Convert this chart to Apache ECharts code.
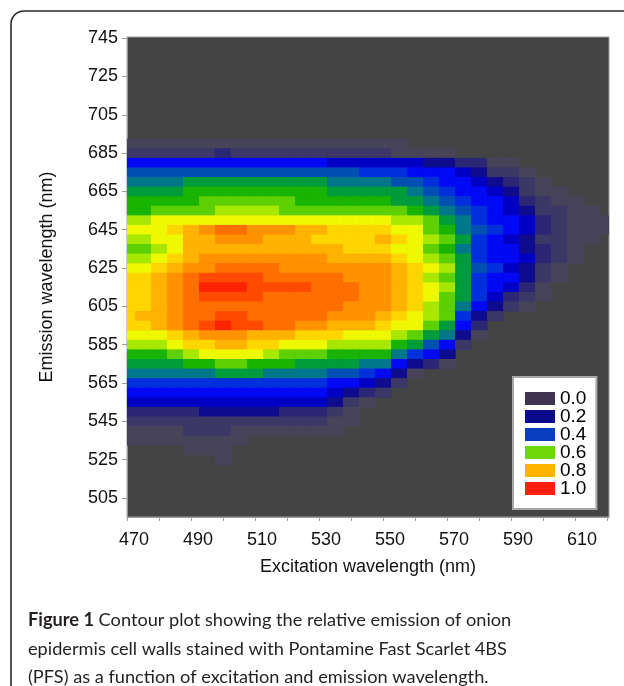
<!DOCTYPE html>
<html>
<head>
<meta charset="utf-8">
<title>Figure 1</title>
<script src="https://cdn.jsdelivr.net/npm/echarts@6/dist/echarts.min.js"></script>
<style>
    html, body { margin: 0; padding: 0; background: #fff; }
    #contour { width: 624px; height: 686px; }
</style>
</head>
<body>
<div id="contour"></div>
<script>
// excitation (x) and emission (y) grid, nm
var excitation = [470, 475, 480, 485, 490, 495, 500, 505, 510, 515, 520, 525, 530, 535, 540, 545,
    550, 555, 560, 565, 570, 575, 580, 585, 590, 595, 600, 605, 610, 615, 620];
var emission = [695, 690, 685, 680, 675, 670, 665, 660, 655, 650, 645, 640, 635, 630, 625, 620,
    615, 610, 605, 600, 595, 590, 585, 580, 575, 570, 565, 560, 555, 550, 545, 540, 535, 530, 525, 520];

// relative emission in % (one row per emission wavelength; missing = 0)
var relEmission = [
    [2, 2, 2, 2, 2, 2, 2, 2, 2, 2, 2, 2, 2, 2, 2, 2, 2, 2, 1, 1],
    [5, 5, 5, 5, 5, 5, 5, 5, 5, 5, 5, 5, 5, 5, 5, 5, 5, 5, 4, 3, 2, 2, 1],
    [10, 11, 12, 12, 13, 14, 15, 14, 13, 12, 12, 12, 12, 11, 10, 10, 10, 9, 8, 7, 6, 4, 3, 2, 2, 1],
    [30, 30, 30, 30, 30, 30, 30, 30, 30, 30, 30, 30, 30, 29, 28, 28, 28, 27, 26, 24, 22, 18, 15, 8, 5, 3, 1],
    [42, 42, 42, 42, 42, 42, 42, 42, 42, 42, 42, 42, 42, 41, 40, 39, 38, 36, 34, 32, 30, 26, 22, 14, 10, 6, 3, 1],
    [47, 47, 48, 49, 50, 51, 52, 52, 52, 51, 50, 50, 50, 49, 48, 47, 46, 44, 42, 38, 33, 30, 28, 20, 15, 10, 5, 3, 1],
    [52, 52, 53, 54, 55, 56, 57, 57, 57, 56, 56, 55, 55, 54, 54, 53, 52, 50, 48, 43, 38, 33, 30, 26, 20, 14, 8, 5, 3, 1],
    [55, 55, 56, 57, 58, 60, 62, 62, 62, 61, 60, 59, 58, 57, 57, 56, 55, 54, 52, 47, 42, 37, 33, 30, 25, 18, 11, 8, 5, 3, 1],
    [58, 59, 60, 62, 63, 64, 66, 66, 66, 65, 64, 63, 62, 62, 62, 62, 62, 60, 58, 53, 48, 42, 36, 32, 28, 22, 14, 11, 7, 5, 3],
    [66, 68, 70, 70, 70, 71, 72, 72, 72, 72, 71, 70, 70, 70, 70, 70, 70, 68, 66, 60, 52, 45, 38, 34, 30, 25, 16, 12, 8, 6, 5],
    [72, 73, 74, 76, 82, 87, 90, 90, 88, 86, 85, 82, 80, 79, 78, 77, 76, 74, 72, 64, 56, 48, 40, 35, 31, 27, 17, 12, 8, 6, 5],
    [68, 69, 71, 74, 80, 84, 87, 87, 86, 84, 82, 80, 78, 78, 77, 78, 80, 77, 74, 67, 60, 50, 38, 34, 28, 22, 14, 10, 7, 5, 3],
    [62, 64, 68, 72, 80, 82, 84, 84, 84, 83, 82, 82, 82, 80, 78, 78, 78, 74, 70, 62, 56, 46, 36, 33, 30, 24, 16, 11, 6, 3, 1],
    [67, 69, 72, 77, 84, 85, 86, 86, 86, 86, 86, 86, 86, 84, 82, 82, 83, 79, 74, 66, 60, 50, 38, 34, 31, 27, 17, 11, 6, 2],
    [72, 74, 76, 80, 87, 89, 90, 90, 90, 90, 89, 88, 88, 86, 85, 85, 85, 82, 78, 72, 66, 54, 40, 35, 28, 22, 13, 8, 4, 1],
    [75, 77, 80, 85, 92, 95, 96, 96, 95, 94, 93, 92, 92, 90, 88, 87, 86, 81, 76, 68, 62, 50, 37, 33, 30, 24, 14, 7, 2],
    [77, 79, 82, 88, 94, 98, 100, 99, 97, 96, 95, 95, 94, 92, 90, 89, 88, 84, 79, 72, 66, 53, 38, 32, 25, 18, 9, 4],
    [76, 78, 80, 86, 91, 95, 97, 96, 95, 94, 94, 94, 94, 92, 90, 88, 86, 82, 78, 70, 64, 50, 35, 28, 18, 12, 5, 2],
    [76, 78, 80, 85, 90, 92, 93, 93, 92, 92, 91, 92, 92, 90, 88, 87, 86, 81, 76, 68, 62, 46, 30, 20, 10, 6, 2],
    [78, 80, 82, 87, 92, 94, 95, 95, 94, 93, 92, 91, 90, 88, 87, 86, 84, 79, 74, 66, 60, 38, 22, 10, 4, 3],
    [76, 78, 80, 86, 92, 96, 98, 97, 95, 93, 90, 88, 86, 84, 82, 80, 78, 74, 70, 62, 52, 32, 15, 4, 2],
    [72, 73, 74, 78, 82, 85, 86, 86, 84, 82, 80, 78, 76, 75, 74, 73, 72, 66, 60, 52, 45, 20, 5, 1],
    [65, 66, 67, 71, 76, 78, 80, 80, 78, 76, 74, 72, 70, 69, 68, 66, 65, 58, 50, 42, 33, 10, 2],
    [58, 58, 58, 62, 66, 70, 72, 72, 70, 67, 64, 62, 60, 59, 58, 57, 56, 46, 36, 30, 22, 4, 1],
    [53, 52, 52, 54, 56, 58, 60, 60, 58, 57, 55, 54, 53, 52, 50, 48, 45, 34, 22, 15, 8, 1],
    [47, 46, 45, 46, 48, 49, 50, 51, 50, 49, 47, 46, 45, 43, 40, 37, 33, 20, 8, 4, 2],
    [38, 37, 36, 36, 37, 38, 38, 38, 37, 37, 36, 36, 35, 33, 30, 26, 22, 10, 3, 1],
    [32, 31, 31, 31, 31, 32, 32, 32, 31, 31, 31, 30, 30, 27, 22, 16, 10, 4],
    [25, 25, 26, 26, 27, 28, 28, 28, 27, 27, 26, 26, 25, 20, 14, 8, 4, 1],
    [17, 17, 18, 18, 19, 20, 20, 20, 20, 20, 19, 19, 18, 13, 8, 4],
    [11, 12, 13, 13, 14, 14, 14, 14, 13, 12, 12, 12, 11, 8, 5, 2],
    [8, 8, 9, 9, 10, 10, 10, 9, 8, 7, 6, 6, 6, 5, 3, 2],
    [5, 5, 5, 6, 7, 8, 8, 6, 4, 4, 4, 4, 3, 2, 1],
    [3, 3, 4, 4, 5, 6, 7, 4, 2, 2, 2, 2, 1],
    [1, 1, 2, 2, 3, 4, 5, 2, 1],
    [0, 0, 0, 0, 1, 2, 2, 1]
];

var xTicks = [470, 480, 490, 500, 510, 520, 530, 540, 550, 560, 570, 580, 590, 600, 610, 620];
var xLabels = [470, 490, 510, 530, 550, 570, 590, 610];
var yTicks = [505, 525, 545, 565, 585, 605, 625, 645, 665, 685, 705, 725, 745];

// contour levels (%) and their fills
var levels = [5, 10, 15, 20, 25, 30, 35, 40, 45, 50, 55, 60, 65, 70, 75, 80, 85, 90, 95, 98];
var levelColors = ['#47445a', '#3b3766', '#2b2775', '#0e0b8c', '#0000c4', '#0008f4', '#0030dc', '#0050b4',
    '#00788a', '#009c3c', '#18b400', '#5cd000', '#a8e800', '#eef800', '#ffd600', '#ffb200', '#ff9200',
    '#ff6e00', '#ff4a00', '#ff2200'];

var legendNames = ['0.0', '0.2', '0.4', '0.6', '0.8', '1.0'];
var legendColors = ['#3e3450', '#0a0a8a', '#0a3ec0', '#70d80a', '#ffb400', '#ff2010'];

var cells = [];
for (var i = 0; i < emission.length; i++) {
    for (var j = 0; j < excitation.length; j++) {
        var v = relEmission[i][j] || 0;
        if (v >= levels[0]) {
            cells.push([excitation[j], emission[i], v]);
        }
    }
}

var pieces = levels.map(function (lv, k) {
    var p = {gte: lv, color: levelColors[k]};
    if (k < levels.length - 1) {
        p.lt = levels[k + 1];
    }
    return p;
});

function renderCell(params, api) {
    var ex = api.value(0);
    var em = api.value(1);
    var p0 = api.coord([ex - 2.5, em + 2.5]);
    var p1 = api.coord([ex + 2.5, em - 2.5]);
    var cs = params.coordSys;
    var shape = echarts.graphic.clipRectByRect({
        x: p0[0],
        y: p0[1],
        width: p1[0] - p0[0] + 0.6,
        height: p1[1] - p0[1] + 0.6
    }, {x: cs.x, y: cs.y, width: cs.width, height: cs.height});
    if (!shape) {
        return null;
    }
    return {
        type: 'rect',
        shape: shape,
        style: {fill: api.visual('color')}
    };
}

var chart = echarts.init(document.getElementById('contour'));

var series = [{
    name: 'relative emission',
    type: 'custom',
    renderItem: renderCell,
    data: cells,
    silent: true,
    animation: false
}];
legendNames.forEach(function (name, k) {
    series.push({
        name: name,
        type: 'line',
        data: [],
        color: legendColors[k],
        itemStyle: {color: legendColors[k]}
    });
});

var caption = '{b|Figure 1} Contour plot showing the relative emission of onion\n' +
    'epidermis cell walls stained with Pontamine Fast Scarlet 4BS\n' +
    '(PFS) as a function of excitation and emission wavelength.';

var option = {
    animation: false,
    textStyle: {fontFamily: 'Liberation Sans'},
    grid: {
        left: 127,
        top: 37,
        width: 482,
        height: 480,
        show: true,
        backgroundColor: '#444444',
        borderColor: '#9a9a9a',
        borderWidth: 1
    },
    visualMap: {
        show: false,
        type: 'piecewise',
        seriesIndex: 0,
        dimension: 2,
        pieces: pieces
    },
    legend: {
        orient: 'vertical',
        left: 513,
        top: 377,
        padding: [12, 10, 11, 12],
        itemWidth: 30,
        itemHeight: 13,
        itemGap: -1,
        icon: 'rect',
        selectedMode: false,
        backgroundColor: '#fff',
        borderColor: '#a8a8a8',
        borderWidth: 2,
        textStyle: {fontSize: 19, lineHeight: 18, color: '#000'},
        data: legendNames
    },
    xAxis: {
        type: 'value',
        min: 470,
        max: 620.6,
        name: 'Excitation wavelength (nm)',
        nameLocation: 'middle',
        nameGap: 41,
        nameTextStyle: {fontSize: 18, color: '#111'},
        axisLine: {show: true, lineStyle: {color: '#9a9a9a'}},
        axisTick: {show: true, length: 4, customValues: xTicks, lineStyle: {color: '#9a9a9a'}},
        axisLabel: {customValues: xLabels, fontSize: 18, color: '#111', margin: 14, padding: [0, 0, 0, 14]},
        splitLine: {show: false}
    },
    yAxis: {
        type: 'value',
        min: 495,
        max: 745.6,
        name: 'Emission wavelength (nm)',
        nameLocation: 'middle',
        nameGap: 71,
        nameTextStyle: {fontSize: 18, color: '#111'},
        axisLine: {show: true, lineStyle: {color: '#9a9a9a'}},
        axisTick: {show: true, length: 5, customValues: yTicks, lineStyle: {color: '#9a9a9a'}},
        axisLabel: {customValues: yTicks, fontSize: 18, color: '#111', margin: 9},
        splitLine: {show: false}
    },
    graphic: [{
        type: 'rect',
        silent: true,
        z: -10,
        shape: {x: 11, y: 11, width: 700, height: 760, r: 13},
        style: {fill: 'none', stroke: '#2a2a2a', lineWidth: 1.6}
    }, {
        type: 'text',
        silent: true,
        x: 28,
        y: 606,
        style: {
            text: caption,
            fontFamily: 'Lato',
            fontSize: 18.2,
            lineHeight: 28.5,
            fill: '#231f20',
            verticalAlign: 'top',
            rich: {
                b: {fontFamily: 'Lato', fontSize: 18.2, fontWeight: 'bold', fill: '#231f20', lineHeight: 28.5}
            }
        }
    }],
    series: series
};

chart.setOption(option);
window.addEventListener('resize', function () {
    chart.resize();
});
</script>
</body>
</html>
